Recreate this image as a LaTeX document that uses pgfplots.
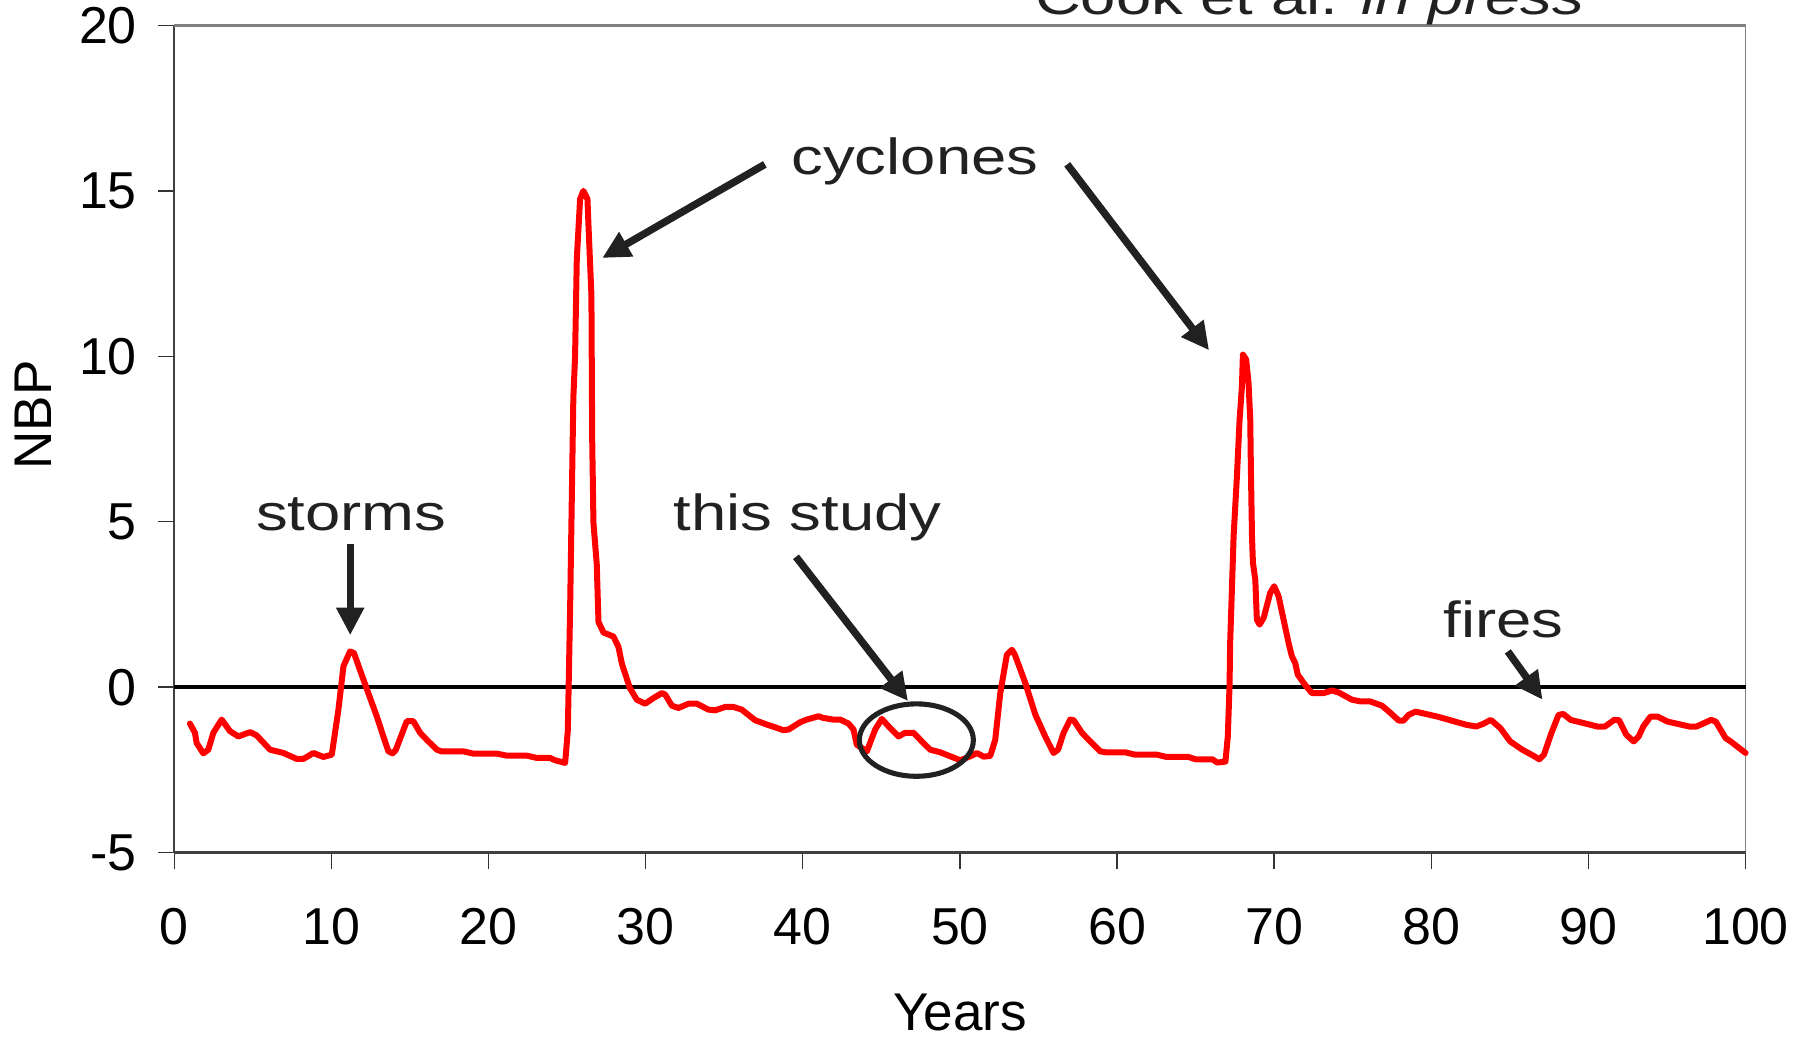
\documentclass[border=0pt]{standalone}
\usepackage{pgfplots}
\pgfplotsset{compat=1.18}
\usepackage{fontspec}
\setmainfont{Liberation Sans}
\newfontfamily\annfont[FakeStretch=1.25]{Liberation Sans}
\usetikzlibrary{arrows.meta}

\pgfplotstableread{
x y
1.00 -1.10
1.32 -1.38
1.43 -1.69
1.85 -2.00
2.17 -1.89
2.49 -1.38
3.02 -0.98
3.55 -1.33
4.08 -1.49
4.83 -1.36
5.25 -1.46
6.10 -1.89
6.95 -1.99
7.80 -2.17
8.22 -2.17
8.86 -1.99
9.49 -2.11
10.03 -2.04
10.45 -0.68
10.77 0.63
11.19 1.08
11.44 1.03
12.04 0.23
12.89 -0.88
13.31 -1.49
13.63 -1.94
13.90 -2.00
14.10 -1.90
14.80 -1.03
15.22 -1.03
15.65 -1.38
16.07 -1.59
16.71 -1.89
17.00 -1.94
18.40 -1.94
19.04 -2.01
20.53 -2.01
21.17 -2.07
22.44 -2.07
23.08 -2.14
23.92 -2.14
24.24 -2.21
24.88 -2.29
25.05 -1.30
25.20 2.50
25.40 8.73
25.51 9.99
25.62 12.93
25.83 14.75
26.04 15.00
26.30 14.75
26.36 14.00
26.55 11.87
26.60 7.50
26.68 4.97
26.89 3.72
27.00 1.97
27.32 1.65
27.95 1.53
28.27 1.22
28.49 0.71
29.00 -0.03
29.44 -0.38
29.97 -0.50
30.50 -0.33
31.03 -0.18
31.24 -0.22
31.67 -0.56
32.09 -0.63
32.73 -0.50
33.26 -0.50
34.00 -0.68
34.43 -0.70
35.06 -0.60
35.60 -0.60
36.12 -0.68
36.97 -1.00
37.71 -1.13
38.77 -1.30
39.10 -1.28
39.84 -1.06
40.26 -0.98
41.00 -0.88
41.30 -0.93
41.95 -0.98
42.38 -0.98
42.91 -1.10
43.23 -1.28
43.44 -1.74
44.08 -1.94
44.61 -1.28
45.03 -0.96
45.45 -1.18
46.09 -1.49
46.52 -1.38
47.05 -1.38
47.58 -1.64
48.11 -1.89
48.75 -1.97
49.39 -2.09
50.03 -2.21
50.66 -2.09
51.08 -1.99
51.51 -2.10
51.93 -2.08
52.25 -1.59
52.57 -0.18
52.99 0.98
53.31 1.13
53.50 0.98
54.16 0.13
54.80 -0.83
55.43 -1.49
55.96 -1.99
56.25 -1.89
56.60 -1.38
57.02 -0.98
57.24 -1.00
57.77 -1.38
58.19 -1.59
58.93 -1.94
59.30 -1.97
60.52 -1.97
61.14 -2.04
62.53 -2.04
63.15 -2.11
64.54 -2.11
65.00 -2.18
66.07 -2.18
66.38 -2.28
66.90 -2.25
67.05 -1.49
67.16 0.03
67.20 1.33
67.42 4.56
67.63 6.37
67.80 8.08
67.95 9.09
68.01 10.05
68.22 9.90
68.37 9.19
68.48 8.08
68.52 6.57
68.59 4.56
68.65 3.75
68.80 3.25
68.90 2.04
69.07 1.89
69.33 2.09
69.75 2.85
70.00 3.05
70.28 2.75
70.60 2.04
70.92 1.33
71.13 0.93
71.34 0.73
71.50 0.38
71.87 0.13
72.40 -0.18
73.15 -0.18
73.68 -0.10
74.10 -0.16
74.95 -0.38
75.48 -0.43
76.10 -0.43
76.86 -0.56
77.31 -0.74
77.93 -1.01
78.24 -1.01
78.55 -0.84
79.00 -0.74
80.39 -0.89
82.25 -1.14
82.86 -1.19
83.30 -1.11
83.79 -0.99
84.40 -1.24
85.02 -1.64
85.79 -1.89
86.56 -2.09
86.87 -2.18
87.17 -2.04
87.64 -1.39
88.10 -0.84
88.40 -0.81
88.87 -0.99
90.57 -1.19
91.05 -1.19
91.64 -0.99
91.95 -1.00
92.41 -1.44
92.88 -1.64
93.20 -1.49
93.49 -1.19
93.95 -0.89
94.40 -0.89
95.03 -1.04
96.42 -1.19
96.88 -1.19
97.81 -0.99
98.10 -1.04
98.73 -1.54
99.05 -1.64
100.00 -1.99
}\nbp

\begin{document}
\begin{tikzpicture}[
  arr/.style={draw=black!87, line width=3.2pt, -{Triangle[length=12pt,width=11.5pt]}},
  ann/.style={font=\annfont\fontsize{22}{26}\selectfont, text=black!87, inner sep=0pt, anchor=base}
]
\begin{axis}[
  scale only axis, width=681pt, height=358.5pt,
  xmin=0, xmax=100, ymin=-5, ymax=20,
  xtick={0,10,20,30,40,50,60,70,80,90,100},
  xticklabels={0,10,20,30,40,50,60,70,80,90,100},
  ytick={-5,0,5,10,15,20},
  yticklabels={-5,0,5,10,15,20},
  tick align=outside, major tick length=7pt,
  xtick pos=bottom, ytick pos=left,
  tick style={black!80, line width=0.6pt},
  axis line style={draw=none},
  tick label style={font=\fontsize{22.5}{25}\selectfont, inner sep=0pt},
  xticklabel style={anchor=base, yshift=-33pt},
  yticklabel style={anchor=east, xshift=-9pt},
  xlabel={Years}, ylabel={NBP},
  label style={font=\fontsize{23}{26}\selectfont, inner sep=0pt},
  xlabel style={at={(axis description cs:0.5,0)}, anchor=base, yshift=-77pt},
  ylabel style={at={(axis description cs:0,0.529)}, anchor=base, yshift=53pt},
  clip=false,
]
% frame
\draw[black!75, line width=0.7pt] (axis cs:0,-5) -- (axis cs:0,20);
\draw[black!50, line width=1.2pt] (axis cs:0,20) -- (axis cs:100,20);
\draw[black!50, line width=0.6pt] (axis cs:100,20) -- (axis cs:100,-5);
\draw[black!75, line width=1.3pt] (axis cs:0,-5) -- (axis cs:100,-5);
% zero line
\addplot[black, line width=1.7pt, forget plot] coordinates {(0,0) (100,0)};
% NBP series
\addplot[red, line width=2.6pt, line join=round, line cap=round] table[x=x, y=y] {\nbp};
\coordinate (O) at (rel axis cs:0,0);
% annotations
\node[ann] at (axis cs:11.27,4.74) {storms};
\node[ann] at (axis cs:40.3,4.74) {this study};
\node[ann] at (axis cs:47.14,15.50) {cyclones};
\node[ann] at (axis cs:84.6,1.5) {fires};
\node[ann] at (axis cs:72.25,20.33) {Cook et al. \textit{in press}};
\draw[arr] (axis cs:11.2,4.32) -- (axis cs:11.2,1.57);
\draw[arr] (axis cs:37.59,15.8) -- (axis cs:27.24,12.97);
\draw[arr] (axis cs:56.83,15.8) -- (axis cs:65.86,10.18);
\draw[arr] (axis cs:39.57,3.94) -- (axis cs:46.7,-0.42);
\draw[arr] (axis cs:84.87,1.08) -- (axis cs:87.08,-0.38);
\draw[black!87, line width=2.2pt] (axis cs:47.23,-1.60) ellipse [x radius=24.7pt, y radius=15.7pt];
\end{axis}
\pgfresetboundingbox
\path ([shift={(-75.5pt,-80.5pt)}]O) rectangle ++(784pt,450pt);
\end{tikzpicture}
\end{document}
